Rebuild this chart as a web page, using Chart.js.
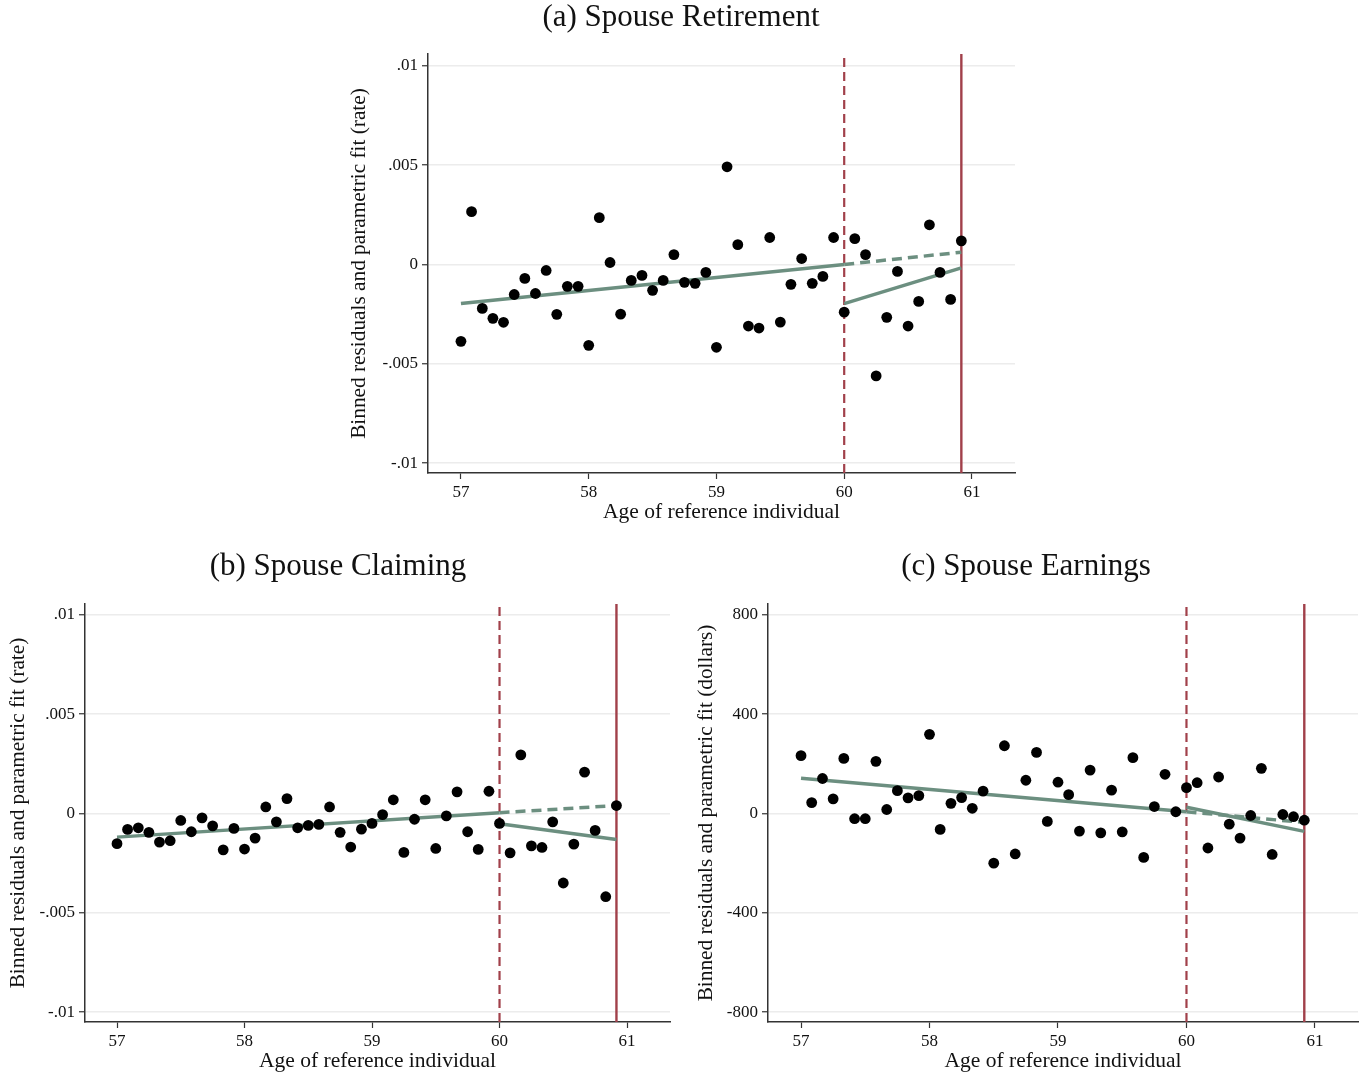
<!DOCTYPE html>
<html>
<head>
<meta charset="utf-8">
<title>Spouse outcomes</title>
<script src="https://cdn.jsdelivr.net/npm/chart.js@4.4.1/dist/chart.umd.min.js"></script>
<style>
    body { margin: 0; background: #fff; }
    #wrap { position: relative; width: 1368px; height: 1076px; }
    canvas { position: absolute; }
</style>
</head>
<body>
<div id="wrap">
    <canvas id="chartA" width="675" height="530" style="left:347px;top:0px"></canvas>
    <canvas id="chartB" width="670" height="527" style="left:6px;top:549px"></canvas>
    <canvas id="chartC" width="670" height="527" style="left:694px;top:549px"></canvas>
</div>
<script>
// Tranches d'âge (mensuelles) de l'individu de référence
const ages = [
    57.000, 57.083, 57.167, 57.250, 57.333, 57.417, 57.500, 57.583, 57.667, 57.750, 57.833, 57.917,
    58.000, 58.083, 58.167, 58.250, 58.333, 58.417, 58.500, 58.583, 58.667, 58.750, 58.833, 58.917,
    59.000, 59.083, 59.167, 59.250, 59.333, 59.417, 59.500, 59.583, 59.667, 59.750, 59.833, 59.917,
    60.000, 60.083, 60.167, 60.250, 60.333, 60.417, 60.500, 60.583, 60.667, 60.750, 60.833, 60.917
];
const ageTicks = [57, 58, 59, 60, 61];
const cutoffs = [60, 60.917];   // pointillé, plein

// Abscisses des droites d'ajustement
const fitLeftX = [57, 60];
const fitRightX = [60, 60.917];

// (a) Spouse Retirement
const retireY = [
    -0.00387, 0.00266, -0.00221, -0.00271, -0.00291, -0.00151, -0.00070, -0.00146, -0.00030, -0.00251, -0.00110, -0.00110,
    -0.00407, 0.00236, 0.00010, -0.00250, -0.00080, -0.00055, -0.00130, -0.00080, 0.00050, -0.00090, -0.00095, -0.00040,
    -0.00417, 0.00492, 0.00100, -0.00310, -0.00320, 0.00136, -0.00290, -0.00100, 0.00030, -0.00095, -0.00060, 0.00136,
    -0.00240, 0.00130, 0.00050, -0.00561, -0.00266, -0.00035, -0.00310, -0.00186, 0.00200, -0.00040, -0.00176, 0.00119
];
const retireFitLeft = [-0.00196, 0.0];
const retireFitExtrap = [0.0, 0.00062];
const retireFitRight = [-0.00197, -0.00017];

// (b) Spouse Claiming
const claimY = [
    -0.00152, -0.00080, -0.00072, -0.00095, -0.00144, -0.00137, -0.00035, -0.00092, -0.00022, -0.00062, -0.00183, -0.00075,
    -0.00179, -0.00124, 0.00033, -0.00042, 0.00075, -0.00072, -0.00060, -0.00055, 0.00033, -0.00095, -0.00169, -0.00079,
    -0.00050, -0.00006, 0.00069, -0.00196, -0.00029, 0.00069, -0.00176, -0.00012, 0.00109, -0.00092, -0.00181, 0.00112,
    -0.00050, -0.00198, 0.00295, -0.00163, -0.00171, -0.00042, -0.00350, -0.00154, 0.00208, -0.00085, -0.00419, 0.00040
];
const claimFitLeft = [-0.00119, 0.00004];
const claimFitExtrap = [0.00004, 0.00040];
const claimFitRight = [-0.00052, -0.00131];

// (c) Spouse Earnings (dollars)
const earnY = [
    233, 44, 141, 59, 222, -21, -21, 210, 16, 92, 63, 72,
    319, -64, 41, 64, 21, 90, -200, 273, -163, 134, 246, -32,
    126, 76, -71, 175, -78, 94, -74, 225, -177, 28, 158, 7,
    104, 124, -139, 147, -43, -99, -8, 182, -165, -4, -13, -27
];
const earnFitLeft = [142, 7];
const earnFitExtrap = [7, -36];
const earnFitRight = [25, -72];

// Graduations de l'axe vertical
const rateTicks = [-0.01, -0.005, 0, 0.005, 0.01];
const rateTickLabels = ['-.01', '-.005', '0', '.005', '.01'];
const dollarTicks = [-800, -400, 0, 400, 800];
const dollarTickLabels = ['-800', '-400', '0', '400', '800'];

const SERIF = "'Liberation Serif', 'Times New Roman', serif";
const GREEN = '#6c8f80';
const RED = '#a1404a';
const INK = '#111';

function buildChart(canvasId, o) {
    const dots = ages.map((a, i) => ({ x: a, y: o.values[i] }));
    const seg = (xs, ys) => xs.map((x, i) => ({ x: x, y: ys[i] }));
    const vline = x => [{ x: x, y: o.yMin }, { x: x, y: o.yMax }];
    const lineStyle = { type: 'line', borderColor: GREEN, borderWidth: 3.5, pointRadius: 0, fill: false, order: 1 };

    return new Chart(document.getElementById(canvasId), {
        type: 'scatter',
        data: {
            datasets: [
                { data: dots, backgroundColor: '#000', pointRadius: 5.4, pointBorderWidth: 0, borderWidth: 0, order: 0 },
                Object.assign({ data: seg(fitLeftX, o.fitLeft) }, lineStyle),
                Object.assign({ data: seg(fitRightX, o.fitExtrap), borderDash: [10, 6] }, lineStyle),
                Object.assign({ data: seg(fitRightX, o.fitRight) }, lineStyle),
                { type: 'line', data: vline(cutoffs[0]), borderColor: RED, borderWidth: 2.2, borderDash: [9, 5], pointRadius: 0, order: 2 },
                { type: 'line', data: vline(cutoffs[1]), borderColor: RED, borderWidth: 2.4, pointRadius: 0, order: 2 }
            ]
        },
        options: {
            responsive: false,
            animation: false,
            layout: { padding: { right: o.padRight } },
            plugins: {
                legend: { display: false },
                tooltip: { enabled: false },
                title: {
                    display: true,
                    text: o.title,
                    color: INK,
                    font: { family: SERIF, size: 31, weight: 'normal', lineHeight: 1 },
                    padding: { top: 2, bottom: o.titleGap }
                }
            },
            scales: {
                x: {
                    type: 'linear',
                    min: o.xMin,
                    max: o.xMax,
                    afterBuildTicks: s => { s.ticks = ageTicks.map(v => ({ value: v })); },
                    afterFit: s => { s.height = o.xAxisHeight; },
                    grid: { drawOnChartArea: false, drawTicks: true, tickLength: 6, tickColor: '#333', tickWidth: 1.2 },
                    border: { color: '#333', width: 1.5 },
                    ticks: { color: INK, font: { family: SERIF, size: 17 }, padding: 3, maxRotation: 0, callback: v => String(v) },
                    title: {
                        display: true,
                        text: 'Age of reference individual',
                        color: INK,
                        font: { family: SERIF, size: 21.5 },
                        padding: { top: 0, bottom: o.xTitlePad }
                    }
                },
                y: {
                    type: 'linear',
                    min: o.yMin,
                    max: o.yMax,
                    afterBuildTicks: s => { s.ticks = o.yTicks.map(v => ({ value: v })); },
                    afterFit: s => { s.width = o.yAxisWidth; },
                    grid: { color: '#ececec', lineWidth: 1.5, drawTicks: true, tickLength: 6, tickColor: '#333', tickWidth: 1.2 },
                    border: { color: '#333', width: 1.5 },
                    ticks: { color: INK, font: { family: SERIF, size: 17 }, padding: 4, callback: (v, i) => o.yLabels[i] },
                    title: {
                        display: true,
                        text: o.yTitle,
                        color: INK,
                        font: { family: SERIF, size: 21.3 },
                        padding: { top: 0, bottom: 0 }
                    }
                }
            }
        }
    });
}

document.addEventListener('DOMContentLoaded', () => {
    // (a) en haut, centré
    buildChart('chartA', {
        title: '(a) Spouse Retirement',
        values: retireY, fitLeft: retireFitLeft, fitExtrap: retireFitExtrap, fitRight: retireFitRight,
        yTicks: rateTicks, yLabels: rateTickLabels,
        yTitle: 'Binned residuals and parametric fit (rate)',
        xMin: 56.742, xMax: 61.337, yMin: -0.0105, yMax: 0.0106,
        padRight: 7, titleGap: 21, xAxisHeight: 57, xTitlePad: 5, yAxisWidth: 81
    });

    // (b) en bas à gauche
    buildChart('chartB', {
        title: '(b) Spouse Claiming',
        values: claimY, fitLeft: claimFitLeft, fitExtrap: claimFitExtrap, fitRight: claimFitRight,
        yTicks: rateTicks, yLabels: rateTickLabels,
        yTitle: 'Binned residuals and parametric fit (rate)',
        xMin: 56.749, xMax: 61.337, yMin: -0.0105, yMax: 0.01055,
        padRight: 6, titleGap: 22, xAxisHeight: 54, xTitlePad: 2, yAxisWidth: 79
    });

    // (c) en bas à droite
    buildChart('chartC', {
        title: '(c) Spouse Earnings',
        values: earnY, fitLeft: earnFitLeft, fitExtrap: earnFitExtrap, fitRight: earnFitRight,
        yTicks: dollarTicks, yLabels: dollarTickLabels,
        yTitle: 'Binned residuals and parametric fit (dollars)',
        xMin: 56.743, xMax: 61.335, yMin: -840, yMax: 844,
        padRight: 6, titleGap: 22, xAxisHeight: 54, xTitlePad: 2, yAxisWidth: 74
    });
});
</script>
</body>
</html>
